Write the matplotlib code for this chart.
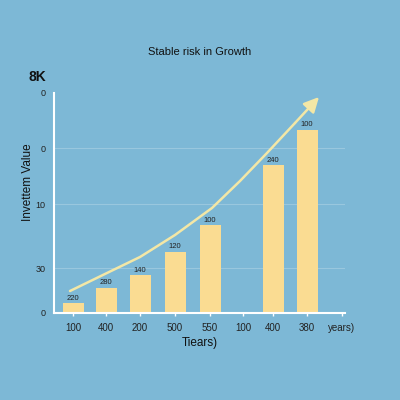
import matplotlib
matplotlib.use("Agg")
import matplotlib.pyplot as plt

# data
x_labels = ["100", "400", "200", "500", "550", "100", "400", "380", "years)"]
x_pos = [73, 106, 140, 175, 210, 243, 273, 307, 342]
bar_slots = [0, 1, 2, 3, 4, 6, 7]
bar_heights = [10, 25, 38, 61, 88, 148, 183]
bar_labels = ["220", "280", "140", "120", "100", "240", "100"]
trend_x = [70, 107, 140, 175, 212, 240, 267, 295]
trend_y = [22, 40, 56, 78, 105, 132, 160, 190]
arrow_tip = (319, 216)
y_ticks = [0, 45, 109, 165, 220]
y_labels = ["0", "30", "10", "0", "0"]

bg = "#7db8d6"
bar_col = "#fadc92"
line_col = "#f3e7a6"

plt.rcParams["font.family"] = ["Liberation Sans", "DejaVu Sans"]

fig = plt.figure(figsize=(4, 4), dpi=100, facecolor=bg)
# axes placed in pixel terms: left 54, right 345, bottom 313, top 93
ax = fig.add_axes([54 / 400, (400 - 313) / 400, (345 - 54) / 400, (313 - 93) / 400])
ax.set_facecolor(bg)
ax.set_xlim(54, 345)
ax.set_ylim(0, 220)

# faint grid
for y in y_ticks[1:4]:
    ax.axhline(y, color="white", alpha=0.22, lw=0.8, zorder=0)

bx = [x_pos[i] for i in bar_slots]
ax.bar(bx, bar_heights, width=21, color=bar_col, zorder=2)
for x, h, lab in zip(bx, bar_heights, bar_labels):
    ax.text(x, h + 1.5, lab, ha="center", va="bottom", fontsize=5.5, color="#222222")

ax.plot(trend_x, trend_y, color=line_col, lw=1.8, zorder=3, solid_capstyle="round")
ax.annotate("", xy=arrow_tip, xytext=(trend_x[-1], trend_y[-1]),
            arrowprops=dict(arrowstyle="-|>,head_length=0.9,head_width=0.45",
                            color=line_col, lw=1.8, shrinkA=0, shrinkB=0),
            zorder=3, annotation_clip=False)

for s in ["top", "right"]:
    ax.spines[s].set_visible(False)
for s in ["left", "bottom"]:
    ax.spines[s].set_color("white")
    ax.spines[s].set_linewidth(1.5)

ax.set_xticks(x_pos)
ax.set_xticklabels(x_labels, fontsize=7, color="#222222")
ax.set_yticks(y_ticks)
ax.set_yticklabels(y_labels, fontsize=6.5, color="#222222")
ax.tick_params(axis="x", colors="white", length=2, width=1, labelcolor="#222222", pad=5)
ax.tick_params(axis="y", length=0, labelcolor="#222222", pad=6)

ax.set_xlabel("Tiears)", fontsize=8.5, color="#111111", labelpad=3)
fig.text(28 / 400, 1 - 182 / 400, "Invettem Value", rotation=90, ha="center", va="center",
         fontsize=8.5, color="#111111")
fig.text(200 / 400, 1 - 52 / 400, "Stable risk in Growth", ha="center", va="center",
         fontsize=8, color="#111111")
fig.text(28 / 400, 1 - 77 / 400, "8K", ha="left", va="center", fontsize=10,
         fontweight="bold", color="#111111")

fig.savefig("out.png", dpi=100, facecolor=bg)
